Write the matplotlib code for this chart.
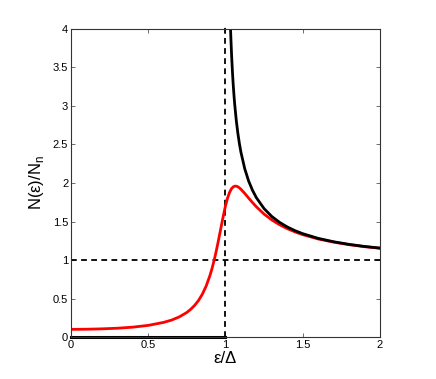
import numpy as np
import matplotlib
matplotlib.use("Agg")
import matplotlib.pyplot as plt

plt.rcParams["font.family"] = ["Liberation Sans", "DejaVu Sans"]
plt.rcParams["mathtext.fontset"] = "custom"
plt.rcParams["mathtext.rm"] = "Liberation Sans"

# broadened density of states, red curve
e_red = [0.0, 0.1, 0.2, 0.3, 0.4, 0.5, 0.6, 0.65, 0.7, 0.75, 0.775, 0.8,
         0.825, 0.85, 0.875, 0.9, 0.9125, 0.925, 0.9375, 0.95, 0.9625,
         0.975, 0.9875, 1.0, 1.0125, 1.025, 1.0375, 1.05, 1.0625, 1.075,
         1.0875, 1.1, 1.125, 1.15, 1.175, 1.2, 1.25, 1.3, 1.35, 1.4, 1.45,
         1.5, 1.6, 1.7, 1.8, 1.9, 2.0]
n_red = [0.0995, 0.101, 0.106, 0.114, 0.128, 0.151, 0.190, 0.219, 0.260,
         0.319, 0.360, 0.410, 0.473, 0.555, 0.662, 0.802, 0.887, 0.983,
         1.091, 1.209, 1.335, 1.463, 1.588, 1.703, 1.798, 1.871, 1.922,
         1.950, 1.960, 1.956, 1.941, 1.919, 1.864, 1.804, 1.746, 1.691,
         1.596, 1.520, 1.458, 1.407, 1.365, 1.329, 1.273, 1.232, 1.199,
         1.173, 1.153]

# BCS density of states, black curve
e_gap = [0.0, 1.0]
n_gap = [0.0, 0.0]
e_bcs = [1.0325, 1.0335, 1.035, 1.04, 1.045, 1.05, 1.055, 1.06, 1.07,
         1.08, 1.09, 1.1, 1.125, 1.15, 1.175, 1.2, 1.25, 1.3, 1.35, 1.4,
         1.45, 1.5, 1.6, 1.7, 1.8, 1.9, 2.0]
n_bcs = [4.017, 3.960, 3.878, 3.641, 3.445, 3.280, 3.138, 3.015, 2.811,
         2.648, 2.513, 2.400, 2.183, 2.025, 1.905, 1.809, 1.667, 1.565,
         1.489, 1.429, 1.381, 1.342, 1.281, 1.237, 1.203, 1.176, 1.155]

xticks = [0, 0.5, 1, 1.5, 2]
yticks = [0, 0.5, 1, 1.5, 2, 2.5, 3, 3.5, 4]

fig = plt.figure(figsize=(4.36, 3.79), dpi=100)
ax = fig.add_axes([0.1628, 0.1108, 0.7087, 0.8127])

ax.axhline(1, color="black", linestyle=(0, (3.2, 2.4)), linewidth=1.3)
ax.axvline(1, color="black", linestyle=(0, (3.2, 2.4)), linewidth=1.3,
           ymax=1.005, clip_on=False)
ax.plot(e_red, n_red, color="#ff0000", linewidth=2.0)
ax.plot(e_gap, n_gap, color="black", linewidth=2.2, clip_on=False)
ax.plot(e_bcs, n_bcs, color="black", linewidth=2.0)

ax.set_xlim(0, 2)
ax.set_ylim(0, 4)
ax.set_xticks(xticks)
ax.set_xticklabels(["0", "0.5", "1", "1.5", "2"])
ax.set_yticks(yticks)
ax.set_yticklabels(["0", "0.5", "1", "1.5", "2", "2.5", "3", "3.5", "4"])
ax.tick_params(direction="in", length=3, width=0.6, color="#555555",
               top=True, right=True, labelsize=8, pad=2)
for s in ax.spines.values():
    s.set_color("#333333")
    s.set_linewidth(0.8)

ax.set_xlabel("ε/Δ", fontsize=12, labelpad=1)
ax.set_ylabel(r"N(ε)/N$_\mathregular{n}$", fontsize=12, labelpad=5)

fig.savefig("out.png", dpi=100)
